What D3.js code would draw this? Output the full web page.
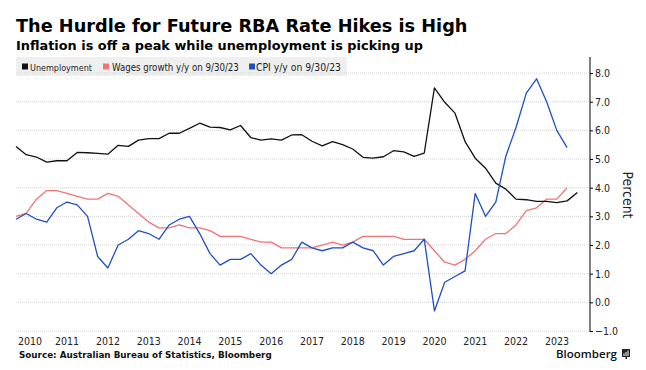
<!DOCTYPE html>
<html>
<head>
<meta charset="utf-8">
<script src="https://cdn.jsdelivr.net/npm/d3@7/dist/d3.min.js"></script>
<style>
  html, body { margin: 0; padding: 0; background: #fff; }
  svg { display: block; }
</style>
</head>
<body>
<svg id="chart" width="646" height="370"></svg>
<script>
// ---- Data (quarterly, Q1 2010 onward) ----
const unemployment = [
  5.44, 5.15, 5.07, 4.89, 4.94, 4.94, 5.23, 5.22, 5.20, 5.17,
  5.48, 5.44, 5.66, 5.71, 5.71, 5.90, 5.90, 6.07, 6.25, 6.11,
  6.10, 6.02, 6.17, 5.75, 5.66, 5.70, 5.66, 5.84, 5.85, 5.62,
  5.46, 5.61, 5.50, 5.35, 5.06, 5.03, 5.08, 5.29, 5.25, 5.09,
  5.21, 7.48, 6.98, 6.60, 5.61, 5.03, 4.68, 4.16, 3.95, 3.60,
  3.58, 3.52, 3.52, 3.48, 3.54, 3.83
];
const wagesGrowth = [
  3.0, 3.1, 3.6, 3.9, 3.9, 3.8, 3.7, 3.6, 3.6, 3.8,
  3.7, 3.4, 3.1, 2.8, 2.6, 2.6, 2.7, 2.6, 2.6, 2.5,
  2.3, 2.3, 2.3, 2.2, 2.1, 2.1, 1.9, 1.9, 1.9, 1.9,
  2.0, 2.1, 2.0, 2.1, 2.3, 2.3, 2.3, 2.3, 2.2, 2.2,
  2.2, 1.8, 1.4, 1.3, 1.5, 1.8, 2.2, 2.4, 2.4, 2.7,
  3.2, 3.3, 3.6, 3.6, 4.0
];
const cpi = [
  2.9, 3.1, 2.9, 2.8, 3.3, 3.5, 3.4, 3.0, 1.6, 1.2,
  2.0, 2.2, 2.5, 2.4, 2.2, 2.7, 2.9, 3.0, 2.4, 1.7,
  1.3, 1.5, 1.5, 1.7, 1.3, 1.0, 1.3, 1.5, 2.1, 1.9,
  1.8, 1.9, 1.9, 2.1, 1.9, 1.8, 1.3, 1.6, 1.7, 1.8,
  2.2, -0.3, 0.7, 0.9, 1.1, 3.8, 3.0, 3.5, 5.1, 6.1,
  7.3, 7.8, 7.0, 6.0, 5.4
];
const yearLabels = ["2010","2011","2012","2013","2014","2015","2016","2017","2018","2019","2020","2021","2022","2023"];
const yTicks = [-1, 0, 1, 2, 3, 4, 5, 6, 7, 8];
const seriesNames = ["Unemployment", "Wages growth y/y on 9/30/23", "CPI y/y on 9/30/23"];
const seriesColors = ["#111111", "#f07474", "#1f4fc2"];

// quarter-end date for index i (Q1 2010 = 0)
const qDate = i => new Date(2010, 3 + 3 * i, 0);

const svg = d3.select("#chart");
const plotL = 16, plotR = 590, plotT = 57, plotB = 331;

const x = d3.scaleTime()
  .domain([qDate(0), new Date(2024, 3, 22)])
  .range([plotL, plotR]);
const y = d3.scaleLinear().domain([-1, 8.56]).range([plotB, plotT]);

function fit(sel, target) {
  const n = sel.node();
  const fs = parseFloat(sel.attr("font-size"));
  const w = n.getComputedTextLength();
  if (w > 0) sel.attr("font-size", (fs * target / w).toFixed(2));
  return sel;
}

// Title & subtitle
fit(svg.append("text").attr("x", 16).attr("y", 32)
  .attr("font-family", "DejaVu Sans").attr("font-weight", "bold")
  .attr("font-size", 16).attr("fill", "#000")
  .text("The Hurdle for Future RBA Rate Hikes is High"), 452);
fit(svg.append("text").attr("x", 16).attr("y", 50)
  .attr("font-family", "DejaVu Sans").attr("font-weight", "bold")
  .attr("font-size", 11).attr("fill", "#000")
  .text("Inflation is off a peak while unemployment is picking up"), 407);

// Legend
svg.append("rect").attr("x", 16).attr("y", 57).attr("width", 331).attr("height", 19).attr("fill", "#efefef");
const legendPos = [{sq: 22, tx: 30, w: 62}, {sq: 103, tx: 112, w: 127}, {sq: 249, tx: 256, w: 85}];
seriesNames.forEach((name, i) => {
  svg.append("rect").attr("x", legendPos[i].sq).attr("y", 63.5).attr("width", 6).attr("height", 6)
    .attr("fill", seriesColors[i]);
  fit(svg.append("text").attr("x", legendPos[i].tx).attr("y", 70.5)
    .attr("font-family", "DejaVu Sans Condensed, DejaVu Sans").attr("font-size", 9)
    .attr("fill", "#222").text(name), legendPos[i].w);
});

// Gridlines
svg.append("g").selectAll("line").data(yTicks).join("line")
  .attr("x1", plotL).attr("x2", plotR)
  .attr("y1", d => y(d)).attr("y2", d => y(d))
  .attr("stroke", "#c8c8c8").attr("stroke-width", 0.8)
  .attr("stroke-dasharray", "1,1");

// Right axis
const yAxis = d3.axisRight(y).tickValues(yTicks).tickSize(3).tickPadding(2)
  .tickFormat(d3.format(".1f"));
const ag = svg.append("g").attr("transform", `translate(${plotR},0)`).call(yAxis);
ag.select(".domain").attr("d", `M0,${plotT}V${plotB + 1}`).attr("stroke", "#000");
ag.selectAll(".tick line").attr("stroke", "#000");
ag.selectAll(".tick text").attr("font-family", "DejaVu Sans Condensed, DejaVu Sans")
  .attr("font-size", 10.5).attr("fill", "#222");

// Percent label
fit(svg.append("text").attr("transform", "translate(623,195) rotate(90)")
  .attr("text-anchor", "middle").attr("font-family", "DejaVu Sans Condensed, DejaVu Sans")
  .attr("font-size", 12).attr("fill", "#222").text("Percent"), 47);

// X axis labels (centered mid-year)
const xg = svg.append("g");
yearLabels.forEach(lbl => {
  const cx = x(new Date(+lbl, 6, 1));
  const t = xg.append("text").attr("y", 345).attr("text-anchor", "middle")
    .attr("font-family", "DejaVu Sans Condensed, DejaVu Sans").attr("font-size", 10.5)
    .attr("fill", "#222").text(lbl);
  const w = t.node().getComputedTextLength();
  t.attr("x", Math.max(cx, plotL + 2 + w / 2));
});

// Lines
const line = d3.line().x((d, i) => x(qDate(i))).y(d => y(d));
const series = [wagesGrowth, unemployment, cpi];
const colors = [seriesColors[1], seriesColors[0], seriesColors[2]];
series.forEach((s, k) => {
  svg.append("path").datum(s).attr("d", line)
    .attr("fill", "none").attr("stroke", colors[k]).attr("stroke-width", 1.3)
    .attr("stroke-linejoin", "round");
});

// Source
fit(svg.append("text").attr("x", 19).attr("y", 358)
  .attr("font-family", "DejaVu Sans").attr("font-weight", "bold").attr("font-size", 8.5)
  .attr("fill", "#111").text("Source: Australian Bureau of Statistics, Bloomberg"), 253);

// Bloomberg logo
svg.append("text").attr("x", 556).attr("y", 358)
  .attr("font-family", "Open Sans, Liberation Sans").attr("font-weight", "600").attr("font-size", 11.5)
  .attr("textLength", 61).attr("lengthAdjust", "spacingAndGlyphs")
  .attr("fill", "#111").text("Bloomberg");
svg.append("rect").attr("x", 622).attr("y", 349).attr("width", 8).attr("height", 8).attr("fill", "#222");
svg.append("rect").attr("x", 625.5).attr("y", 357).attr("width", 1.5).attr("height", 2).attr("fill", "#222");
[623.5, 625.5, 627.5].forEach((bx, i) => {
  svg.append("rect").attr("x", bx).attr("y", 353.5 - i * 1.5).attr("width", 1).attr("height", 2.5 + i * 1.5).attr("fill", "#fff");
});
</script>
</body>
</html>
